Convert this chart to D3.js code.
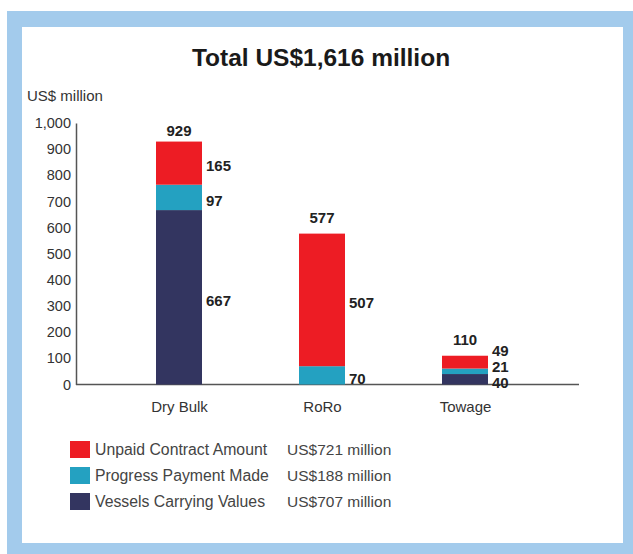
<!DOCTYPE html>
<html>
<head>
<meta charset="utf-8">
<script src="https://cdn.jsdelivr.net/npm/d3@7"></script>
<style>
  html, body { margin: 0; padding: 0; background: #ffffff; }
  svg { display: block; }
  text { font-family: "Liberation Sans", Arial, Helvetica, sans-serif; }
</style>
</head>
<body>
<svg id="chart" width="633" height="554"></svg>
<script>
// ---- data ----
const categories = ["Dry Bulk", "RoRo", "Towage"];
const seriesNames = ["Vessels Carrying Values", "Progress Payment Made", "Unpaid Contract Amount"];
const vesselsCarrying = [667, 0, 40];
const progressPayment = [97, 70, 21];
const unpaidContract = [165, 507, 49];
const totals = [929, 577, 110];
const yTicks = [0, 100, 200, 300, 400, 500, 600, 700, 800, 900, 1000];
const legendNames = ["Unpaid Contract Amount", "Progress Payment Made", "Vessels Carrying Values"];
const legendTotals = ["US$721 million", "US$188 million", "US$707 million"];
const titleText = "Total US$1,616 million";
const yAxisTitle = "US$ million";

// ---- styles ----
const colors = {
  "Unpaid Contract Amount": "#ed1c24",
  "Progress Payment Made": "#24a1c1",
  "Vessels Carrying Values": "#333560"
};

const svg = d3.select("#chart");

// frame
svg.append("rect").attr("x", 7).attr("y", 11).attr("width", 626).attr("height", 543).attr("fill", "#a3cbec");
svg.append("rect").attr("x", 22).attr("y", 27).attr("width", 601).attr("height", 516).attr("fill", "#ffffff");

// title
svg.append("text").attr("x", 321).attr("y", 66).attr("text-anchor", "middle")
  .attr("font-size", 24.5).attr("font-weight", "bold").attr("fill", "#1a1a1a").text(titleText);
svg.append("text").attr("x", 27).attr("y", 101).attr("font-size", 15).attr("fill", "#333").text(yAxisTitle);

// scales
const y = d3.scaleLinear().domain([0, 1000]).range([384.5, 123]);
const x = d3.scalePoint().domain(categories).range([179, 465]);
const barW = 46;

// y axis
const yAxisG = svg.append("g").attr("transform", "translate(76,0)")
  .call(d3.axisLeft(y).tickValues(yTicks).tickSize(0).tickPadding(5).tickFormat(d3.format(",")));
yAxisG.select(".domain").attr("stroke", "#555").attr("stroke-width", 1.5);
yAxisG.selectAll("text").attr("font-size", 14.5).attr("fill", "#333")
  .attr("font-family", "'Liberation Sans', Arial, sans-serif");

// x axis
const xAxisG = svg.append("g").attr("transform", `translate(0,${y(0)})`)
  .call(d3.axisBottom(x).tickSize(0).tickPadding(17));
xAxisG.select(".domain").remove();
svg.append("line").attr("x1", 76).attr("x2", 579).attr("y1", y(0)).attr("y2", y(0))
  .attr("stroke", "#555").attr("stroke-width", 1.5);
xAxisG.selectAll("text").attr("font-size", 15).attr("fill", "#333")
  .attr("font-family", "'Liberation Sans', Arial, sans-serif");

// stacked data
const rows = categories.map((c, i) => ({
  category: c,
  "Vessels Carrying Values": vesselsCarrying[i],
  "Progress Payment Made": progressPayment[i],
  "Unpaid Contract Amount": unpaidContract[i]
}));
const stacked = d3.stack().keys(seriesNames)(rows);

svg.append("g").selectAll("g").data(stacked).join("g")
  .attr("fill", d => colors[d.key])
  .selectAll("rect").data(d => d).join("rect")
  .attr("x", d => x(d.data.category) - barW / 2)
  .attr("width", barW)
  .attr("y", d => y(d[1]))
  .attr("height", d => y(d[0]) - y(d[1]));

// segment labels with collision avoidance
categories.forEach((c, i) => {
  const segs = stacked.map(s => ({ v: s[i][1] - s[i][0], mid: (s[i][0] + s[i][1]) / 2 }))
    .filter(s => s.v > 0);
  let prevY = Infinity;
  segs.forEach(s => {
    let ly = y(s.mid) + 3;
    if (ly > prevY - 16) ly = prevY - 16;
    prevY = ly;
    svg.append("text").attr("x", x(c) + barW / 2 + 4).attr("y", ly).attr("dy", "0.35em")
      .attr("font-size", 15).attr("font-weight", "bold").attr("fill", "#222").text(s.v);
  });
  // total label
  let ty = Math.max(y(totals[i]) - 16, 131);
  svg.append("text").attr("x", x(c)).attr("y", ty).attr("dy", "0.35em").attr("text-anchor", "middle")
    .attr("font-size", 15).attr("font-weight", "bold").attr("fill", "#222").text(totals[i]);
});

// legend
const leg = svg.append("g").selectAll("g").data(legendNames).join("g")
  .attr("transform", (d, i) => `translate(70,${441 + i * 26})`);
leg.append("rect").attr("width", 20).attr("height", 17).attr("fill", d => colors[d]);
leg.append("text").attr("x", 25).attr("y", 8.5).attr("dy", "0.35em").attr("font-size", 15.8)
  .attr("fill", "#444").text(d => d);
leg.append("text").attr("x", 217).attr("y", 8.5).attr("dy", "0.35em").attr("font-size", 15.5)
  .attr("fill", "#444").text((d, i) => legendTotals[i]);
</script>
</body>
</html>
